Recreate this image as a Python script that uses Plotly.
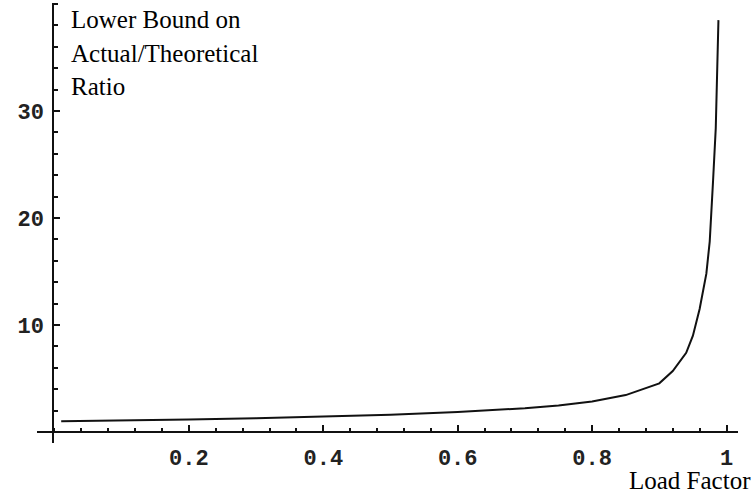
import plotly.graph_objects as go

# Data (load factor vs. lower bound on actual/theoretical ratio)
load_factor = [0.01, 0.10, 0.20, 0.30, 0.40, 0.50, 0.60, 0.70, 0.75, 0.80, 0.85,
               0.90, 0.92, 0.94, 0.95, 0.96, 0.97, 0.975, 0.98, 0.984, 0.988]
ratio = [1.00, 1.06, 1.16, 1.28, 1.42, 1.62, 1.86, 2.22, 2.48, 2.85, 3.45,
         4.55, 5.70, 7.40, 9.00, 11.5, 14.8, 17.8, 23.5, 28.4, 38.5]

x_major = [0.2, 0.4, 0.6, 0.8, 1.0]
x_major_text = ["0.2", "0.4", "0.6", "0.8", "1"]
y_major = [10, 20, 30]
y_major_text = ["10", "20", "30"]

W, H = 754, 493
ML, MR, MT, MB = 53, 16, 3, 61
pw, ph = W - ML - MR, H - MT - MB

fig = go.Figure()
fig.add_trace(go.Scatter(x=load_factor, y=ratio, mode="lines",
                         line=dict(color="#111111", width=2), showlegend=False,
                         hoverinfo="skip"))

tickfont = dict(family="Liberation Mono", size=22, color="#222222", weight="bold")
ink = "#111111"

fig.update_layout(
    width=W, height=H,
    margin=dict(l=ML, r=MR, t=MT, b=MB, pad=0),
    paper_bgcolor="white", plot_bgcolor="white",
    xaxis=dict(range=[-0.0022, 1.0171], showgrid=False, zeroline=False,
               showline=False,
               tickmode="array", tickvals=x_major, ticktext=x_major_text,
               ticks="inside", ticklen=7, tickwidth=2, tickcolor=ink,
               minor=dict(ticks="inside", dtick=0.04, tick0=0, ticklen=4,
                          tickwidth=2, tickcolor=ink, showgrid=False),
               tickfont=tickfont, ticklabelstandoff=10),
    yaxis=dict(range=[0, 40.1], showgrid=False, zeroline=False,
               showline=False,
               tickmode="array", tickvals=y_major, ticktext=y_major_text,
               ticks="inside", ticklen=7, tickwidth=2, tickcolor=ink,
               minor=dict(ticks="inside", dtick=2, tick0=0, ticklen=5,
                          tickwidth=2, tickcolor=ink, showgrid=False),
               tickfont=tickfont, ticklabelstandoff=8),
)

# axis lines, extending a little past the origin as in the reference
fig.add_shape(type="line", xref="paper", yref="paper", xsizemode="pixel", xanchor=0,
              x0=-16, x1=pw, y0=0, y1=0, line=dict(color=ink, width=2))
fig.add_shape(type="line", xref="paper", yref="paper", ysizemode="pixel", yanchor=0,
              x0=0, x1=0, y0=-11, y1=ph, line=dict(color=ink, width=2))

labfont = dict(family="Liberation Serif", size=25, color="#000000")
def px(x): return (x - ML) / pw
def py(y): return (H - MB - y) / ph

for txt, yc in [("Lower Bound on", 20), ("Actual/Theoretical", 54), ("Ratio", 86)]:
    fig.add_annotation(text=txt, xref="paper", yref="paper", x=px(69), y=py(yc),
                       xanchor="left", yanchor="middle", showarrow=False, font=labfont)
fig.add_annotation(text="Load Factor", xref="paper", yref="paper", x=px(753), y=py(480),
                   xanchor="right", yanchor="middle", showarrow=False, font=labfont)

fig.write_html("out.html", config={"displayModeBar": False},
               post_script="document.body.style.margin='0';")
